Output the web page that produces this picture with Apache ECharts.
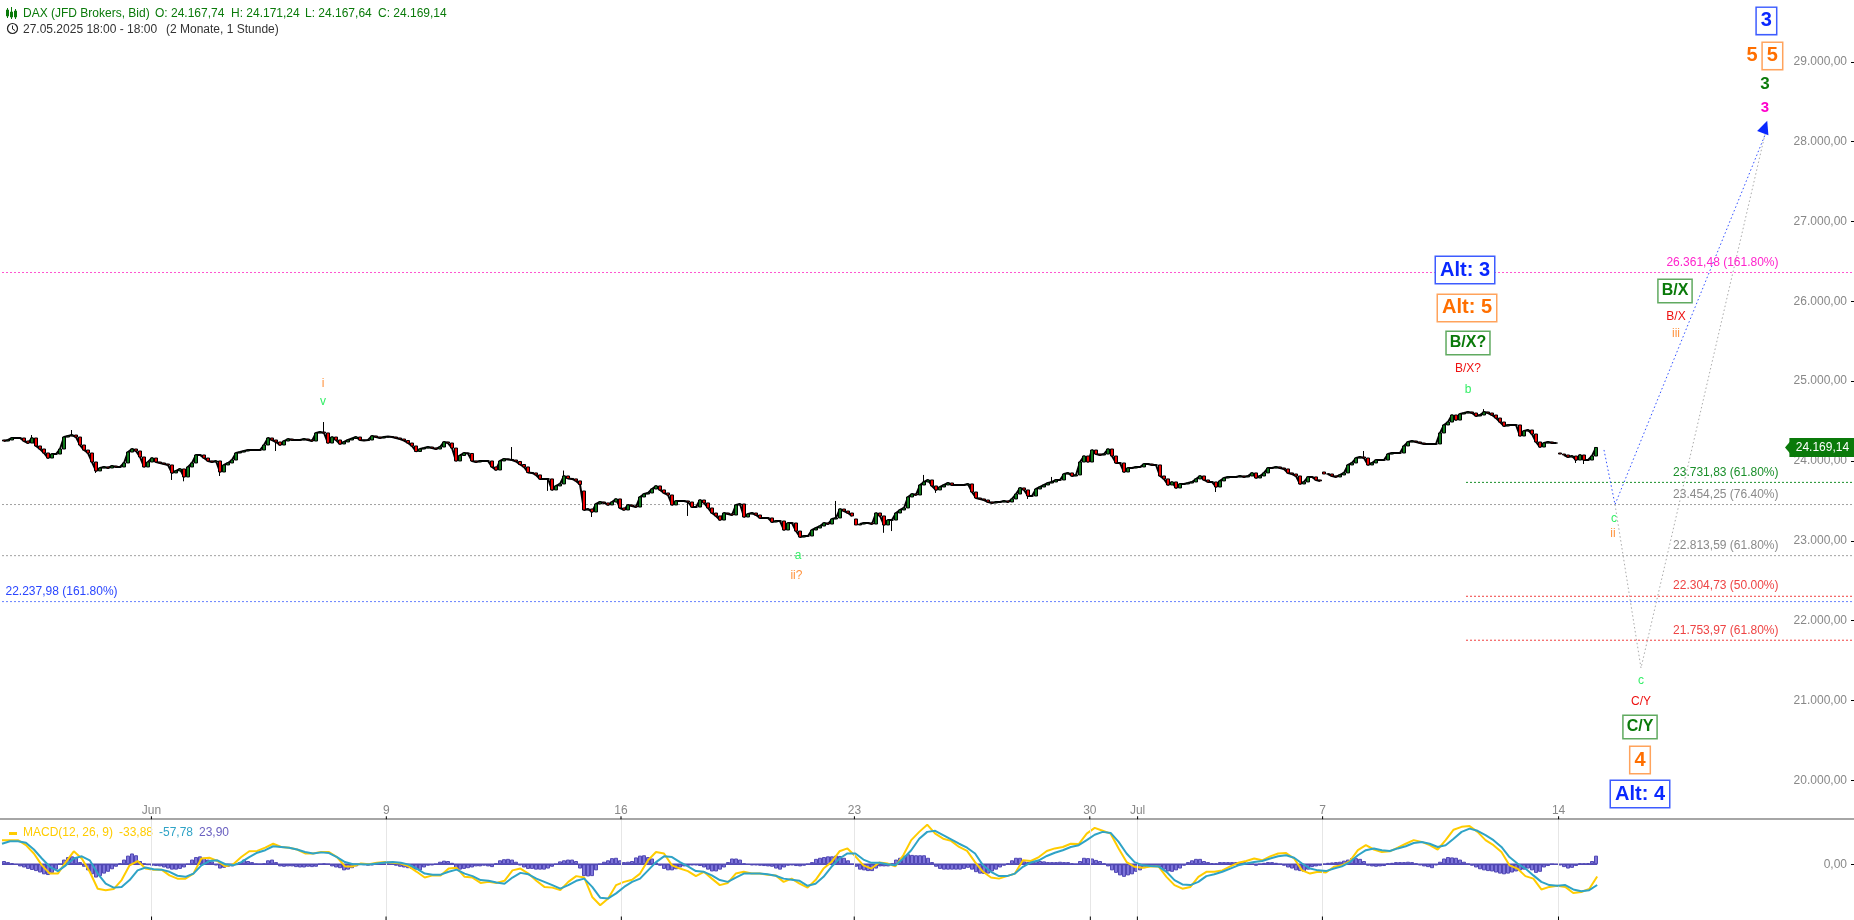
<!DOCTYPE html>
<html><head><meta charset="utf-8"><style>html,body{margin:0;padding:0;background:#fff}#c{width:1854px;height:920px}</style>
<script src="https://cdn.jsdelivr.net/npm/echarts@6/dist/echarts.min.js"></script></head>
<body><div id="c"></div><script>
const tickSlots=[37.35,96.08,154.75,213.1,271.95,283.9,330.15,389.15];
const tickNames=['Jun','9','16','23','30','Jul','7','14'];
const macdGridSlots=[18.75,48.15,77.65,106.85,136.45,142.35,165.55,195.15];
const priceTicks=[20000,21000,22000,23000,24000,25000,26000,27000,28000,29000];
const closes=[24250,24263,24288,24288,24288,24250,24225,24288,24188,24150,24100,24037,24087,24087,24150,24300,24313,24325,24300,24200,24137,24100,23987,23875,23912,23925,23912,23937,23925,23925,23975,24112,24150,24125,24050,23925,23987,24037,23987,23975,23962,23950,23850,23875,23900,23800,23925,23975,24075,24075,24037,24000,23987,24000,23862,23950,23975,24012,24100,24112,24125,24137,24137,24137,24137,24200,24288,24263,24238,24200,24250,24275,24263,24263,24263,24275,24263,24250,
24351,24363,24351,24225,24300,24263,24213,24238,24263,24282,24300,24263,24256,24263,24313,24300,24288,24300,24306,24300,24288,24275,24256,24225,24188,24119,24150,24162,24175,24162,24150,24175,24238,24225,24162,24000,24069,24100,24094,24000,23987,24000,24000,24000,23925,23887,24000,24025,24019,24012,23994,23956,23925,23856,23850,23825,23775,23775,23775,23637,23687,23712,23812,23781,23775,23750,23706,23386,23398,23361,23461,23486,23474,23449,23486,23524,23411,
23386,23449,23436,23423,23549,23586,23599,23649,23687,23637,23599,23574,23449,23499,23499,23499,23486,23423,23423,23511,23474,23411,23348,23311,23260,23348,23336,23323,23449,23461,23298,23336,23348,23323,23286,23286,23286,23235,23248,23248,23135,23223,23223,23122,23047,23060,23060,23135,23160,23185,23223,23210,23273,23286,23398,23373,23348,23311,
23198,23210,23223,23223,23210,23348,23311,23198,23260,23260,23348,23386,23411,23549,23586,23574,23699,23737,23762,23687,23637,23674,23699,23724,23699,23699,23699,23699,23712,23611,23536,23524,23511,23486,23474,23486,23486,23499,23486,23524,23586,23662,23637,23561,23561,23649,23674,23699,23724,23737,23762,23762,23837,23850,23812,23825,23987,24062,23987,24137,24087,24075,24087,24150,24062,23975,23975,23862,23912,23912,23925,23925,23962,23962,23950,23950,23812,23775,23699,23737,23662,23712,23712,23724,23737,23775,23812,23762,
23737,23737,23674,23750,23787,23800,23800,23800,23812,23800,23812,23850,23787,23812,23850,23912,23912,23925,23912,23900,23850,23837,23812,23712,23737,23800,23800,23762,23750,23837,23837,23812,23800,23825,23850,23950,23975,24037,24050,24037,23950,23975,24012,24012,24012,24087,24100,24100,24100,24188,24238,24250,24238,24225,24213,24213,24213,24213,24351,24451,24488,24576,24513,24589,24601,24614,24601,24564,24576,24614,24601,24576,24538,24488,24438,24451,24451,24451,24313,24376,24388,24338,24238,24175,24225,24238,24225,24225,24087,24075,24050,24062,24012,24075,24012,24012,24062,24169.14];
const openOverrides={0:24263,145:23624,213:23273,330:23862,389:24100};
const sessionGaps=[213,330,389];
const highWicks={7:24325,17:24388,80:24488,127:24175,140:23880,208:23499,230:23825,262:23800,340:24125,370:24650};
const lowWicks={23:23850,42:23762,45:23745,54:23812,68:24125,136:23625,147:23298,171:23311,220:23100,222:23122,233:23600,256:23524,303:23611,393:23975,395:23962};
const macd=[67,67,67,53,30,-3,-26,-26,6,36,16,-21,-68,-72,-69,-44,-3,9,-12,-15,-15,-31,-40,-40,-26,16,18,9,-6,0,20,36,37,46,57,48,46,41,30,30,34,34,20,-6,-6,2,0,4,6,4,2,-6,-21,-37,-31,-31,-12,-10,-35,-37,-52,-49,-52,-46,-17,-12,-26,-46,-63,-65,-72,-49,-33,-37,-91,-114,-95,-58,-49,
-43,-26,11,34,30,-3,-12,-19,-33,-21,-40,-58,-52,-26,-21,-26,-26,-29,-31,-49,-40,-54,-65,-44,-12,6,36,44,22,-3,-12,5,2,-6,25,67,90,110,85,71,65,48,37,6,-21,-37,-40,-33,-26,11,9,20,37,44,48,57,56,85,101,93,85,44,6,-7,-10,-6,-6,-35,-58,-68,-63,-35,-21,-21,-17,-6,4,9,
16,11,22,30,31,16,-17,-26,-21,-23,-7,-3,9,39,53,41,34,36,46,57,67,62,53,41,67,96,104,106,90,67,53,34,-3,-12,-33,-40,-70,-63,-60,-63,-80,-77,-69,-33.88];
const signal=[57,64,64,60,41,16,-7,-19,-3,16,22,11,-26,-54,-65,-63,-44,-17,-9,-14,-15,-21,-32,-35,-26,-3,9,11,0,-3,6,20,32,39,50,48,46,41,34,30,33,31,20,6,0,0,-1,2,5,6,4,-1,-12,-26,-29,-29,-21,-15,-26,-33,-44,-46,-51,-54,-37,-24,-28,-40,-49,-58,-68,-58,-46,-40,-63,-93,-95,-81,-63,
-49,-40,-17,6,22,20,6,-6,-19,-21,-31,-44,-49,-37,-26,-26,-26,-28,-32,-40,-43,-46,-60,-54,-35,-7,16,30,30,13,4,4,0,-3,16,39,71,90,93,81,69,57,46,30,-3,-21,-33,-33,-26,-7,5,11,23,32,39,48,53,67,82,90,87,62,30,6,-3,-5,-6,-21,-44,-56,-58,-49,-33,-28,-21,-12,-3,2,
6,9,16,22,25,18,2,-12,-17,-19,-12,-6,6,25,39,44,39,37,44,50,59,62,57,48,53,71,90,99,93,81,67,48,20,2,-12,-31,-49,-58,-60,-58,-70,-75,-72,-57.78];
const hist=[9,6,3,-1,-6,-9,-13,-16,-19,-23,-28,-30,-24,-15,0,13,20,22,20,6,-7,-17,-28,-37,-33,-26,-21,-14,-7,2,13,24,30,25,9,2,-2,-4,-5,-6,-9,-12,-15,-15,-13,-9,0,13,20,22,18,13,8,-3,-12,-10,-7,-6,-2,6,13,9,6,1,0,2,11,13,6,-6,-7,-6,-6,-8,-9,-9,-7,-8,-7,0,2,0,-6,-9,-11,-17,-15,-11,-6,0,-2,-4,-3,0,1,1,2,0,-4,-7,-9,-11,-13,-15,-17,-9,-4,-3,0,7,10,9,4,-12,-15,-13,-11,-9,-6,-6,-4,-6,-8,2,11,14,15,13,7,-3,-9,-13,-13,-15,-15,-15,-12,-7,0,8,11,13,13,9,-12,-33,-34,-33,-17,0,7,11,17,18,11,
6,7,9,19,24,25,20,16,5,-4,-13,-17,-17,-14,-9,-6,-4,-3,-3,-5,-9,-15,-20,-20,-15,-9,6,16,16,13,2,-1,-3,-3,-4,-5,-6,-7,-12,-15,-9,-4,-3,-5,-6,-4,0,6,15,18,20,22,22,24,23,18,11,0,-7,-15,-17,-19,-19,-12,-6,-6,-6,2,13,18,24,28,26,25,25,25,18,6,-7,-13,-15,-15,-15,-15,-15,-13,-10,-15,-22,-26,-27,-26,-20,-15,-9,-4,2,11,18,18,8,6,7,9,9,8,6,6,6,7,6,6,2,0,9,18,17,16,12,9,2,-6,-17,-24,-31,-35,-31,-28,-21,-17,-11,-7,-6,-7,-9,-15,-20,-21,-17,-12,-4,6,11,15,15,9,6,3,2,6,6,6,6,6,6,
6,4,0,-4,0,4,6,6,4,0,-4,-9,-12,-17,-19,-21,-15,-8,-6,-4,0,4,5,6,7,10,13,17,17,15,9,-4,-6,-7,-6,-5,2,4,6,6,6,7,6,2,-3,-6,-8,-11,-3,7,16,20,19,18,13,7,1,-4,-9,-14,-17,-19,-20,-23,-26,-28,-26,-23,-20,-17,-15,-12,-17,-24,-21,-9,-5,0,-1,-3,-8,-12,-10,-5,2,2,3,9,23.90];
const levelValues=[26361.48,23454.25,22813.59,22237.98,23731.83,22304.73,21753.97];
const levelStarts=[-1,-1,-1,-1,366,366,366];
const levelColors=['#ff55d0','#a0a0a0','#a0a0a0','#6680ff','#1a8f2a','#f04040','#f04040'];
const forecastBlue=[[400.5,24138],[403.25,23454],[441.25,28147]];
const forecastGray=[[403.25,23454],[409.75,21406],[441,28147]];
const annoText=['3','5','5','3','3','Alt: 3','Alt: 5','B/X?','B/X?','b','B/X','B/X','iii','c','C/Y','C/Y','4','Alt: 4','c','ii','a','ii?','i','v'];
const annoSlot=[441.1,437.5,442.6,440.75,440.75,365.75,366.25,366.5,366.5,366.5,418.25,418.5,418.5,409.75,409.75,409.5,409.5,409.5,403,402.75,199,198.6,80.25,80.25];
const annoPrice=[29514,29075,29075,28725,28423,26393,25917,25479,25153,24890,26131,25805,25591,21243,20980,20667,20253,19827,23273,23085,22810,22559,24971,24739];
const annoKind=['bb','o','ob','g','m','bb','ob','gb','r','l','gb','r','s','l','r','gb','ob','bb','l','s','l','s','s','l'];
const fibText=['26.361,48 (161.80%)','23.731,83 (61.80%)','23.454,25 (76.40%)','22.813,59 (61.80%)','22.304,73 (50.00%)','21.753,97 (61.80%)','22.237,98 (161.80%)'];
const fibPrice=[26482,23850,23574,22935,22434,21870,22359];
const fibColor=['#ff22cc','#1a8f2a','#8a8a8a','#8a8a8a','#ee4444','#ee4444','#2a46ff'];

const FONT='"Liberation Sans",Arial,sans-serif';
const deFmt=v=>v.toLocaleString('de-DE',{minimumFractionDigits:2,maximumFractionDigits:2});
const slots=Array.from({length:463},(_,i)=>'s'+i);
const candles=closes.map((c,i)=>{const o=openOverrides[i]??closes[i-1];
  const hi=highWicks[i]??Math.max(o,c),lo=lowWicks[i]??Math.min(o,c);return [o,c,Math.min(lo,o,c),Math.max(hi,o,c)];});
const closeLine=closes.map((c,i)=>sessionGaps.includes(i)?null:c);
const kinds={
 bb:{color:'#0a28ff',fontWeight:'bold',fontSize:20,borderColor:'#3d5cff',borderWidth:1.5,padding:[3,4],backgroundColor:'#fff'},
 ob:{color:'#ff6f00',fontWeight:'bold',fontSize:20,borderColor:'#ffa35c',borderWidth:1.5,padding:[3,4],backgroundColor:'#fff'},
 gb:{color:'#0a7a0a',fontWeight:'bold',fontSize:16,borderColor:'#60aa60',borderWidth:1.5,padding:[3,3],backgroundColor:'#fff'},
 o:{color:'#ff6f00',fontWeight:'bold',fontSize:20},
 g:{color:'#0a7a0a',fontWeight:'bold',fontSize:17},
 m:{color:'#ff00cc',fontWeight:'bold',fontSize:15},
 r:{color:'#ee1111',fontSize:12},
 l:{color:'#33ee66',fontSize:12},
 s:{color:'#ff9440',fontSize:12}
};
const annoData=annoText.map((t,i)=>({name:t,value:[annoSlot[i],annoPrice[i]],label:{...kinds[annoKind[i]],show:true,position:'inside',formatter:'{b}',fontFamily:FONT,align:'center',verticalAlign:'middle'}}));
const fibData=fibText.map((t,i)=>{const left=i===6;return {name:t,value:[left?0.75:444.25,fibPrice[i]],label:{show:true,position:left?'right':'left',distance:0,formatter:'{b}',color:fibColor[i],fontSize:12,fontFamily:FONT}};});
const levelSeries=levelValues.map((v,i)=>({type:'line',xAxisIndex:1,yAxisIndex:0,symbol:'none',silent:true,z:1,clip:false,lineStyle:{color:levelColors[i],width:1,type:[2,2]},data:[[levelStarts[i],v],[463,v]]}));
const hiddenMark={symbolSize:1,itemStyle:{color:'transparent',opacity:1}};
const tickLabel=v=>{const k=tickSlots.indexOf(v);return k>=0?tickNames[k]:'';};

const chart=echarts.init(document.getElementById('c'),null,{renderer:'canvas',width:1854,height:920});
chart.setOption({animation:false,backgroundColor:'#fff',textStyle:{fontFamily:FONT},
 grid:[{left:2,right:0,top:0,height:819},{left:2,right:0,top:820,height:100}],
 xAxis:[
  {type:'category',gridIndex:0,data:slots,show:false,axisLine:{onZero:false},splitLine:{show:false}},
  {type:'value',gridIndex:0,min:0,max:463,position:'bottom',axisLine:{show:false,onZero:false},splitLine:{show:false},
   axisTick:{show:false},
   axisLabel:{inside:true,customValues:tickSlots,formatter:tickLabel,color:'#888',fontSize:12,margin:2,fontFamily:FONT,hideOverlap:false}},
  {type:'category',gridIndex:1,data:slots,show:false,axisLine:{onZero:false},splitLine:{show:false}},
  {type:'value',gridIndex:1,min:0,max:232.2,show:false,splitLine:{show:false},axisLine:{onZero:false}}
 ],
 yAxis:[
  {type:'value',gridIndex:0,position:'right',min:19514,max:29776,axisLine:{show:false,onZero:false},splitLine:{show:false},
   axisTick:{show:true,inside:true,length:3,customValues:priceTicks,lineStyle:{color:'#000'}},
   axisLabel:{inside:true,margin:7,customValues:priceTicks,color:'#888',fontSize:12,fontFamily:FONT,formatter:deFmt}},
  {type:'value',gridIndex:1,position:'right',min:-155,max:123,axisLine:{show:false,onZero:false},splitLine:{show:false},
   axisTick:{show:true,inside:true,length:3,customValues:[0],lineStyle:{color:'#000'}},
   axisLabel:{inside:true,margin:7,customValues:[0],color:'#888',fontSize:12,fontFamily:FONT,formatter:deFmt}}
 ],
 series:[
  ...levelSeries,
  {type:'line',xAxisIndex:1,yAxisIndex:0,symbol:'none',silent:true,z:3,lineStyle:{color:'#3050ff',width:1,type:[1.5,2.5]},data:forecastBlue},
  {type:'line',xAxisIndex:1,yAxisIndex:0,symbol:'none',silent:true,z:3,lineStyle:{color:'#aaaaaa',width:1,type:[1.5,2.5]},data:forecastGray},
  {type:'line',xAxisIndex:0,yAxisIndex:0,symbol:'none',silent:true,z:3,connectNulls:false,lineStyle:{color:'#000',width:2},data:closeLine},
  {type:'candlestick',xAxisIndex:0,yAxisIndex:0,barWidth:4,z:4,large:false,progressive:0,
   itemStyle:{color:'#0f7a1a',color0:'#f00000',borderColor:'#000',borderColor0:'#000',borderWidth:1},data:candles},
  {type:'scatter',xAxisIndex:1,yAxisIndex:0,silent:true,z:6,symbol:'triangle',symbolSize:[12,13],symbolRotate:-20,itemStyle:{color:'#0a28ff',opacity:1},data:[[440.75,28185]]},
  {type:'scatter',xAxisIndex:1,yAxisIndex:0,silent:true,z:8,...hiddenMark,data:annoData},
  {type:'scatter',xAxisIndex:1,yAxisIndex:0,silent:true,z:8,...hiddenMark,data:fibData},
  {type:'scatter',xAxisIndex:1,yAxisIndex:0,silent:true,z:9,symbol:'triangle',symbolSize:[19,8],symbolRotate:90,itemStyle:{color:'#0a7a0a',opacity:1},data:[[446.75,24169.14]]},
  {type:'scatter',xAxisIndex:1,yAxisIndex:0,silent:true,z:9,...hiddenMark,
   data:[{name:deFmt(closes[closes.length-1]),value:[455.1,24169.14],label:{show:true,position:'inside',formatter:'{b}',color:'#fff',fontSize:12,fontFamily:FONT,backgroundColor:'#0a7a0a',width:66,height:19,lineHeight:19,align:'center',verticalAlign:'middle'}}]},
  {type:'scatter',xAxisIndex:1,yAxisIndex:0,silent:true,z:7,symbol:'rect',symbolSize:[1,3],clip:false,itemStyle:{color:'#000',opacity:1},data:tickSlots.map(s=>[s,19530])},
  {type:'scatter',xAxisIndex:3,yAxisIndex:1,silent:true,z:7,symbol:'rect',symbolSize:[1,4],clip:false,itemStyle:{color:'#000',opacity:1},data:macdGridSlots.map(s=>[s,-151])},
  {type:'bar',xAxisIndex:2,yAxisIndex:1,barWidth:4,z:2,silent:true,itemStyle:{color:'#7d74da',borderColor:'#5148b4',borderWidth:1},data:hist},
  {type:'line',xAxisIndex:3,yAxisIndex:1,symbol:'none',silent:true,z:3,lineStyle:{color:'#5148b4',width:1.5},data:[[0,0],[200,0]]},
  {type:'line',xAxisIndex:3,yAxisIndex:1,symbol:'none',silent:true,z:4,lineStyle:{color:'#ffcc00',width:2},data:macd.map((v,i)=>[i,v]),
   markLine:{silent:true,symbol:'none',label:{show:false},lineStyle:{color:'#e6e6e6',width:1,type:'solid'},data:macdGridSlots.map(v=>({xAxis:v}))}},
  {type:'line',xAxisIndex:3,yAxisIndex:1,symbol:'none',silent:true,z:5,lineStyle:{color:'#2fa3c6',width:2},data:signal.map((v,i)=>[i,v])}
 ],
 graphic:[
  {type:'line',shape:{x1:0,y1:819,x2:1854,y2:819},style:{stroke:'#888',lineWidth:1.5},silent:true},
  {type:'text',left:23,top:8,style:{text:'DAX (JFD Brokers, Bid)',fill:'#0a7a0a',font:'12px '+FONT}},
  {type:'text',left:155,top:8,style:{text:'O: 24.167,74',fill:'#0a7a0a',font:'12px '+FONT}},
  {type:'text',left:231,top:8,style:{text:'H: 24.171,24',fill:'#0a7a0a',font:'12px '+FONT}},
  {type:'text',left:305,top:8,style:{text:'L: 24.167,64',fill:'#0a7a0a',font:'12px '+FONT}},
  {type:'text',left:378,top:8,style:{text:'C: 24.169,14',fill:'#0a7a0a',font:'12px '+FONT}},
  {type:'text',left:23,top:24,style:{text:'27.05.2025 18:00 - 18:00',fill:'#333',font:'12px '+FONT}},
  {type:'text',left:166,top:24,style:{text:'(2 Monate, 1 Stunde)',fill:'#333',font:'12px '+FONT}},
  {type:'rect',shape:{x:6.5,y:10,width:2,height:6},style:{fill:'none',stroke:'#0a7a0a',lineWidth:1}},
  {type:'line',shape:{x1:7.5,y1:8,x2:7.5,y2:18},style:{stroke:'#0a7a0a',lineWidth:1}},
  {type:'rect',shape:{x:10.5,y:12,width:2,height:5},style:{fill:'#0a7a0a',stroke:'#0a7a0a',lineWidth:1}},
  {type:'line',shape:{x1:11.5,y1:7,x2:11.5,y2:19},style:{stroke:'#0a7a0a',lineWidth:1}},
  {type:'rect',shape:{x:14.5,y:11,width:2,height:6},style:{fill:'none',stroke:'#0a7a0a',lineWidth:1}},
  {type:'line',shape:{x1:15.5,y1:9,x2:15.5,y2:19},style:{stroke:'#0a7a0a',lineWidth:1}},
  {type:'circle',shape:{cx:12.5,cy:28.5,r:5},style:{fill:'none',stroke:'#222',lineWidth:1.2}},
  {type:'polyline',shape:{points:[[12.5,25.5],[12.5,29],[15,30.5]]},style:{fill:'none',stroke:'#222',lineWidth:1}},
  {type:'rect',shape:{x:9,y:832,width:8,height:3},style:{fill:'#ffcc00'}},
  {type:'text',left:23,top:827,style:{text:'MACD(12, 26, 9)',fill:'#ffcc00',font:'12px '+FONT}},
  {type:'text',left:119,top:827,style:{text:'-33,88',fill:'#ffcc00',font:'12px '+FONT}},
  {type:'text',left:159,top:827,style:{text:'-57,78',fill:'#2fa3c6',font:'12px '+FONT}},
  {type:'text',left:199,top:827,style:{text:'23,90',fill:'#6a60c0',font:'12px '+FONT}}
 ]
});
</script></body></html>
